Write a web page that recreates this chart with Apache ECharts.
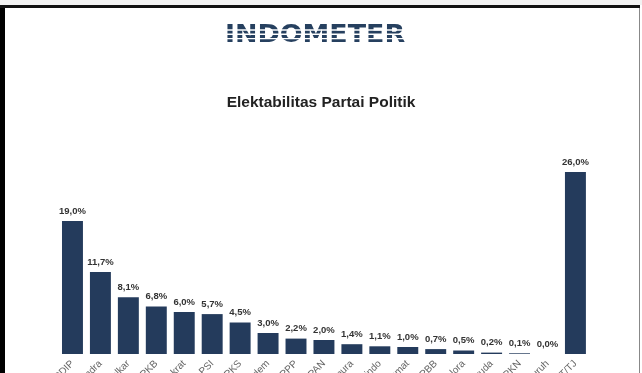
<!DOCTYPE html>
<html>
<head>
<meta charset="utf-8">
<script src="https://cdn.jsdelivr.net/npm/echarts@6/dist/echarts.min.js"></script>
<style>
html,body{margin:0;padding:0;background:#fff;}
#c{width:642px;height:373px;}
</style>
</head>
<body>
<div id="c"></div>
<script>
var categories = ["PDIP","Gerindra","Golkar","PKB","Demokrat","PSI","PKS","Nasdem","PPP","PAN","Hanura","Perindo","Ummat","PBB","Gelora","Garuda","PKN","Buruh","TT/TJ"];
var values = [19.0,11.7,8.1,6.8,6.0,5.7,4.5,3.0,2.2,2.0,1.4,1.1,1.0,0.7,0.5,0.2,0.1,0.0,26.0];
var titleText = "Elektabilitas Partai Politik";
var logoText = "INDOMETER";

var chart = echarts.init(document.getElementById('c'), null, {renderer:'canvas'});

var navy = '#243b5c';

var graphics = [
  {type:'rect',shape:{x:0,y:0,width:642,height:5},style:{fill:'#f2f2f2'},silent:true},
  {type:'rect',shape:{x:0,y:5,width:5,height:368},style:{fill:'#000'},silent:true},
  {type:'rect',shape:{x:0,y:5,width:640,height:3},style:{fill:'#111'},silent:true},
  {type:'rect',shape:{x:639,y:8,width:1,height:365},style:{fill:'#888'},silent:true},
  {
    type:'text',
    x:315,y:36,
    scaleX:1.12,
    z:10,
    style:{
      text:logoText,
      fontFamily:'DejaVu Sans',
      fontWeight:'bold',
      fontSize:24,
      align:'center',
      verticalAlign:'middle',
      fill:'#26405f'
    },
    silent:true
  }
];
// white stripes across the logo
for (var s = 0; s < 4; s++) {
  graphics.push({type:'rect',z:11,shape:{x:215,y:29.3 + s*4.3,width:200,height:1.4},style:{fill:'#ffffff'},silent:true});
}

chart.setOption({
  backgroundColor:'#ffffff',
  animation:false,
  title:{
    text:titleText,
    left:'center',
    top:90,
    textStyle:{fontFamily:'Liberation Sans, Arial, sans-serif',fontSize:15.5,fontWeight:'bold',color:'#222'}
  },
  grid:{left:58.5,right:52.6,top:144,bottom:19,containLabel:false,outerBoundsMode:'none'},
  xAxis:{
    type:'category',
    data:categories,
    axisLine:{show:false},
    axisTick:{show:false},
    axisLabel:{rotate:45,interval:0,margin:8,fontSize:10,color:'#666',fontFamily:'Liberation Sans, Arial, sans-serif'}
  },
  yAxis:{type:'value',min:0,max:30,show:false,splitLine:{show:false}},
  series:[{
    type:'bar',
    data:values,
    barCategoryGap:'25%',
    itemStyle:{color:navy},
    label:{
      show:true,
      position:'top',
      distance:5,
      fontSize:9.5,
      fontWeight:'bold',
      color:'#333',
      fontFamily:'Liberation Sans, Arial, sans-serif',
      formatter:function(p){return p.value.toFixed(1).replace('.',',')+'%';}
    }
  }],
  graphic:graphics
});
</script>
</body>
</html>
